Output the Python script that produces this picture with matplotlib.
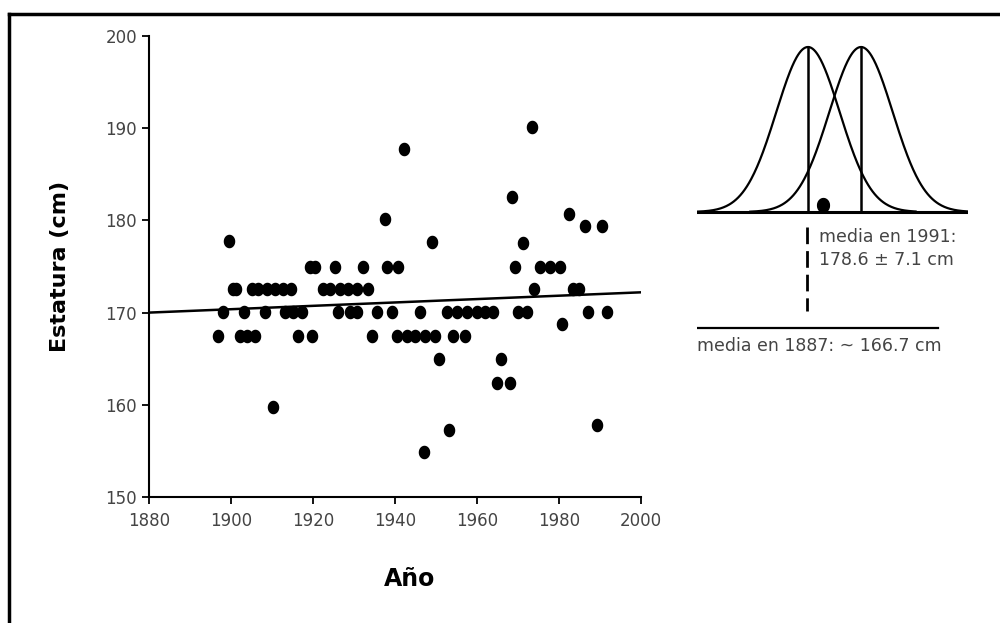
import numpy as np
import matplotlib
matplotlib.use("Agg")
import matplotlib.pyplot as plt
from matplotlib.lines import Line2D

# puntos, agrupados por fila de estatura
years_175 = [1919.3, 1920.5, 1925.4, 1932.2, 1938.0, 1940.7, 1969.3, 1975.4, 1977.8, 1980.2]
years_1726 = [1900.5, 1901.3, 1905.1, 1906.6, 1908.8, 1910.7, 1912.7, 1914.6, 1922.4, 1924.1,
              1926.6, 1928.5, 1930.7, 1933.4, 1973.9, 1983.5, 1985.0]
years_170 = [1898.0, 1903.2, 1908.3, 1913.2, 1915.1, 1917.3, 1926.1, 1929.0, 1930.7, 1935.6,
             1939.3, 1946.1, 1952.7, 1955.1, 1957.6, 1960.0, 1962.0, 1963.9, 1970.0, 1972.2,
             1987.1, 1991.7]
years_1675 = [1896.8, 1902.2, 1903.9, 1905.9, 1916.3, 1919.8, 1934.4, 1940.5, 1942.9, 1944.9,
              1947.3, 1949.8, 1954.1, 1957.1]

other_years = [1899.5, 1937.6, 1910.2, 1942.2, 1973.4, 1968.5, 1982.4, 1986.3, 1990.5, 1949.0,
               1971.2, 1980.7, 1950.7, 1965.9, 1964.9, 1968.0, 1953.2, 1989.3, 1947.1]
other_heights = [177.8, 180.2, 159.8, 187.7, 190.1, 182.5, 180.7, 179.4, 179.4, 177.7,
                 177.5, 168.8, 165.0, 165.0, 162.4, 162.4, 157.3, 157.8, 154.9]

trend_years = [1880, 2000]
trend_heights = [170.0, 172.2]

x_ticks = [1880, 1900, 1920, 1940, 1960, 1980, 2000]
y_ticks = [150, 160, 170, 180, 190, 200]

# distribuciones del recuadro
mean_1887 = 166.7
mean_1991 = 178.6
sd = 7.1
inset_dot = 170.1


def main():
    years = years_175 + years_1726 + years_170 + years_1675 + other_years
    heights = ([174.9] * len(years_175) + [172.6] * len(years_1726) + [170.1] * len(years_170)
               + [167.5] * len(years_1675) + other_heights)

    fig = plt.figure(figsize=(10, 6.23), dpi=100)
    W, H = 1000, 623

    # puntos algo alargados en vertical, como en el original
    t = np.linspace(0, 2 * np.pi, 40)
    dot = np.column_stack([0.85 * np.cos(t), np.sin(t)])

    ax = fig.add_axes([149 / W, 1 - 497 / H, (641 - 149) / W, (497 - 36) / H])
    ax.scatter(years, heights, s=95, marker=dot, color='black', zorder=3, linewidths=0)
    ax.plot(trend_years, trend_heights, color='black', lw=1.8)

    ax.set_xlim(1880, 2000)
    ax.set_ylim(150, 200)
    ax.set_xticks(x_ticks)
    ax.set_yticks(y_ticks)
    for s in ['top', 'right']:
        ax.spines[s].set_visible(False)
    for s in ['left', 'bottom']:
        ax.spines[s].set_linewidth(1.5)
    ax.tick_params(direction='out', length=5, width=1.3, labelsize=12, labelcolor='#444444')
    ax.tick_params(axis='x', pad=6)
    ax.set_xlabel('Año', fontsize=17, fontweight='bold')
    ax.set_ylabel('Estatura (cm)', fontsize=16, fontweight='bold')
    ax.xaxis.set_label_coords((410 - 149) / 492, (497 - 567) / 461)
    ax.yaxis.set_label_coords((70 - 149) / 492, 0.5)

    # recuadro con las dos campanas (pico en y=47 px, base en y=212 px)
    x0, x1 = 141.8, 202.6
    y_top, y_bot = 30, 360
    ax_in = fig.add_axes([697 / W, 1 - y_bot / H, (968 - 697) / W, (y_bot - y_top) / H])
    ax_in.set_xlim(x0, x1)
    ax_in.set_ylim(-(y_bot - 212) / 165, (212 - y_top) / 165)
    ax_in.axis('off')

    for m in [mean_1887, mean_1991]:
        xs = np.linspace(m - 3.5 * sd, m + 3.4 * sd, 300)
        ax_in.plot(xs, np.exp(-0.5 * ((xs - m) / sd) ** 2), color='black', lw=1.6)
        ax_in.plot([m, m], [0, 1], color='black', lw=1.8)
    ax_in.plot([x0, x1], [0, 0], color='black', lw=2.2)
    ax_in.plot([inset_dot], [0.045], marker=dot, ms=10, color='black')
    ax_in.plot([mean_1887 - 0.2, mean_1887 - 0.2], [-0.09, -0.60], color='black', lw=2,
               linestyle=(0, (6, 2.5)))
    ax_in.text(169.2, -0.15, 'media en 1991:', fontsize=12.5, color='#444444', va='center')
    ax_in.text(169.2, -0.29, '178.6 ± 7.1 cm', fontsize=12.5, color='#444444', va='center')
    ax_in.plot([141.6, 195.9], [-0.703, -0.703], color='black', lw=1.6)
    ax_in.text(141.8, -0.81, 'media en 1887: ~ 166.7 cm', fontsize=12.5, color='#444444',
               va='center')

    # marco de la imagen escaneada
    fig.add_artist(Line2D([9 / W, 1], [1 - 14 / H, 1 - 14 / H], color='black', lw=2.5))
    fig.add_artist(Line2D([9 / W, 9 / W], [0, 1 - 14 / H], color='black', lw=2.5))

    fig.savefig('out.png', dpi=100)


if __name__ == "__main__":
    main()
